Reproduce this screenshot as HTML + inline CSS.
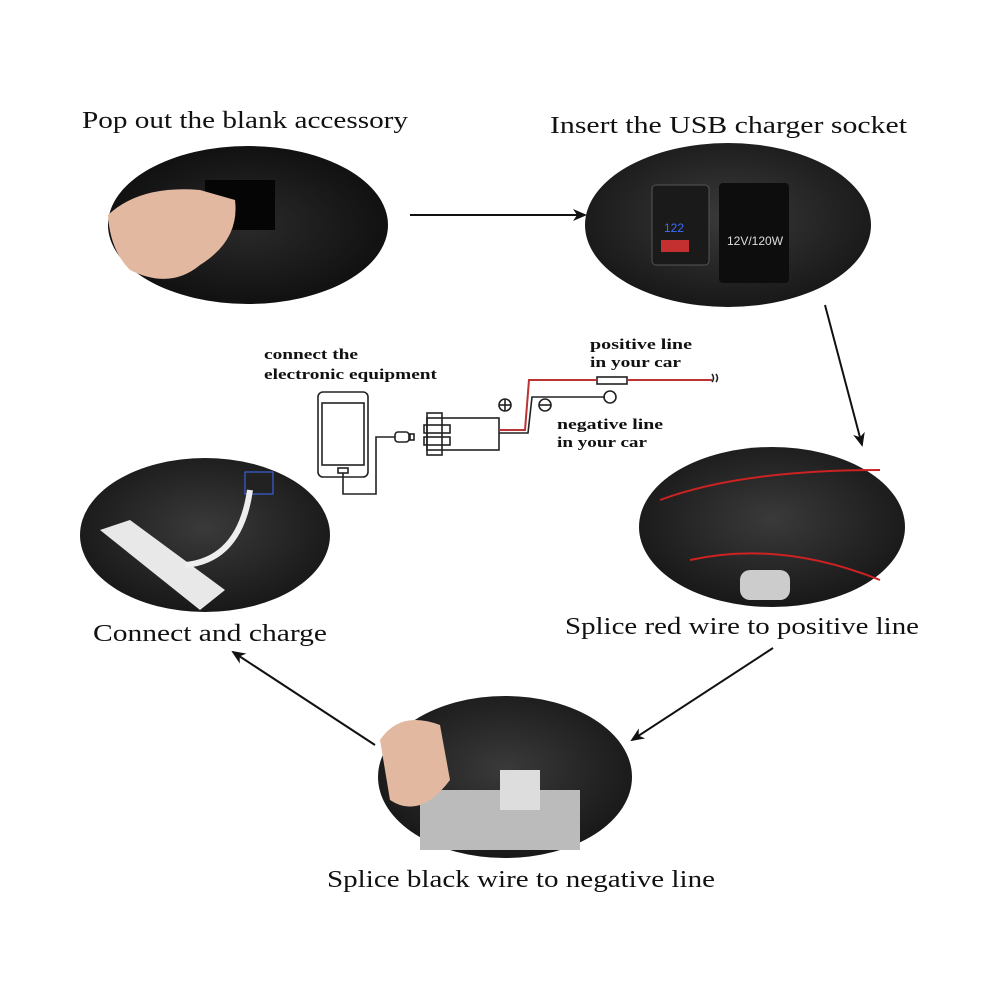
<!DOCTYPE html>
<html><head><meta charset="utf-8"><style>
html,body{margin:0;padding:0;background:#fff;width:1000px;height:1000px;overflow:hidden}
svg{display:block}
.lbl{font-family:"Liberation Serif",serif;font-size:24px;fill:#111}
.sm{font-family:"Liberation Serif",serif;font-size:15px;font-weight:bold;fill:#111}
</style></head><body>
<svg width="1000" height="1000" viewBox="0 0 1000 1000" xmlns="http://www.w3.org/2000/svg">
<defs>
<radialGradient id="g1" cx="50%" cy="50%" r="60%"><stop offset="0" stop-color="#2a2a2a"/><stop offset="1" stop-color="#0c0c0c"/></radialGradient>
<radialGradient id="g2" cx="50%" cy="45%" r="60%"><stop offset="0" stop-color="#3a3a3a"/><stop offset="1" stop-color="#151515"/></radialGradient>
<marker id="ah" markerWidth="14" markerHeight="12" refX="12" refY="6" orient="auto" markerUnits="userSpaceOnUse"><path d="M0,0 L14,6 L0,12 L4,6z" fill="#111"/></marker>
</defs>

<text class="lbl" x="82" y="128" textLength="326" lengthAdjust="spacingAndGlyphs">Pop out the blank accessory</text>
<text class="lbl" x="550" y="133" textLength="357" lengthAdjust="spacingAndGlyphs">Insert the USB charger socket</text>
<text class="lbl" x="93" y="641" textLength="234" lengthAdjust="spacingAndGlyphs">Connect and charge</text>
<text class="lbl" x="565" y="634" textLength="354" lengthAdjust="spacingAndGlyphs">Splice red wire to positive line</text>
<text class="lbl" x="327" y="887" textLength="388" lengthAdjust="spacingAndGlyphs">Splice black wire to negative line</text>

<!-- photo 1 -->
<ellipse cx="248" cy="225" rx="140" ry="79" fill="url(#g1)"/>
<rect x="205" y="180" width="70" height="50" fill="#050505"/>
<path d="M108,215 Q140,185 200,190 L235,200 Q240,240 200,265 Q170,290 130,270 Q110,250 108,215z" fill="#e2b9a0"/>
<!-- photo 2 -->
<ellipse cx="728" cy="225" rx="143" ry="82" fill="url(#g2)"/>
<rect x="652" y="185" width="57" height="80" rx="4" fill="#1a1a1a" stroke="#555"/>
<text x="664" y="232" font-family="Liberation Sans,sans-serif" font-size="12" fill="#3a6cff">122</text>
<rect x="661" y="240" width="28" height="12" fill="#c43030"/>
<rect x="719" y="183" width="70" height="100" rx="4" fill="#0d0d0d"/>
<text x="727" y="245" font-family="Liberation Sans,sans-serif" font-size="12" fill="#ddd">12V/120W</text>
<!-- photo 3 -->
<ellipse cx="205" cy="535" rx="125" ry="77" fill="url(#g2)"/>
<rect x="245" y="472" width="28" height="22" fill="#222" stroke="#3a6cff"/>
<path d="M100,530 L130,520 L225,590 L200,610 Z" fill="#e8e8e8"/>
<path d="M250,490 Q240,560 185,565" stroke="#eee" stroke-width="6" fill="none"/>
<!-- photo 4 -->
<ellipse cx="772" cy="527" rx="133" ry="80" fill="url(#g2)"/>
<path d="M660,500 Q740,470 880,470" stroke="#c22" stroke-width="2" fill="none"/>
<path d="M690,560 Q780,540 880,580" stroke="#c22" stroke-width="2" fill="none"/>
<rect x="740" y="570" width="50" height="30" rx="10" fill="#ccc"/>
<!-- photo 5 -->
<ellipse cx="505" cy="777" rx="127" ry="81" fill="url(#g2)"/>
<rect x="420" y="790" width="160" height="60" fill="#bbb"/>
<path d="M380,740 Q400,710 440,725 L450,780 Q420,820 390,800 Z" fill="#e2b9a0"/>
<rect x="500" y="770" width="40" height="40" fill="#ddd"/>

<!-- arrows -->
<g stroke="#111" stroke-width="2" fill="none" marker-end="url(#ah)">
<line x1="410" y1="215" x2="585" y2="215"/>
<line x1="825" y1="305" x2="862" y2="445"/>
<line x1="773" y1="648" x2="632" y2="740"/>
<line x1="375" y1="745" x2="233" y2="652"/>
</g>

<!-- wiring diagram -->
<text class="sm" x="264" y="359" textLength="94" lengthAdjust="spacingAndGlyphs">connect the</text>
<text class="sm" x="264" y="379" textLength="173" lengthAdjust="spacingAndGlyphs">electronic equipment</text>
<text class="sm" x="590" y="349" textLength="102" lengthAdjust="spacingAndGlyphs">positive line</text>
<text class="sm" x="590" y="367" textLength="91" lengthAdjust="spacingAndGlyphs">in your car</text>
<text class="sm" x="557" y="429" textLength="106" lengthAdjust="spacingAndGlyphs">negative line</text>
<text class="sm" x="557" y="447" textLength="90" lengthAdjust="spacingAndGlyphs">in your car</text>
<g stroke="#222" stroke-width="1.6" fill="none">
<rect x="318" y="392" width="50" height="85" rx="5"/>
<rect x="322" y="403" width="42" height="62" />
<rect x="338" y="468" width="10" height="5"/>
<path d="M343,473 L343,494 L376,494 L376,437 L395,437"/>
<rect x="395" y="432" width="14" height="10" rx="3"/>
<rect x="410" y="434" width="4" height="6"/>
<rect x="427" y="418" width="72" height="32"/>
<rect x="427" y="413" width="15" height="42"/>
<rect x="424" y="425" width="26" height="8"/>
<rect x="424" y="437" width="26" height="8"/>
<circle cx="505" cy="405" r="6"/><line x1="499" y1="405" x2="511" y2="405"/><line x1="505" y1="399" x2="505" y2="411"/>
<circle cx="545" cy="405" r="6"/><line x1="539" y1="405" x2="551" y2="405"/>
<path d="M499,433 L528,433 L532,397 L605,397"/>
<circle cx="610" cy="397" r="6"/>
<rect x="597" y="377" width="30" height="7"/>
<path d="M712,374 q3,4 0,8 M716,374 q3,4 0,8"/>
</g>
<path d="M499,430 L525,430 L529,380 L597,380 M627,380 L712,380" stroke="#b33" stroke-width="2" fill="none"/>
</svg>
</body></html>
